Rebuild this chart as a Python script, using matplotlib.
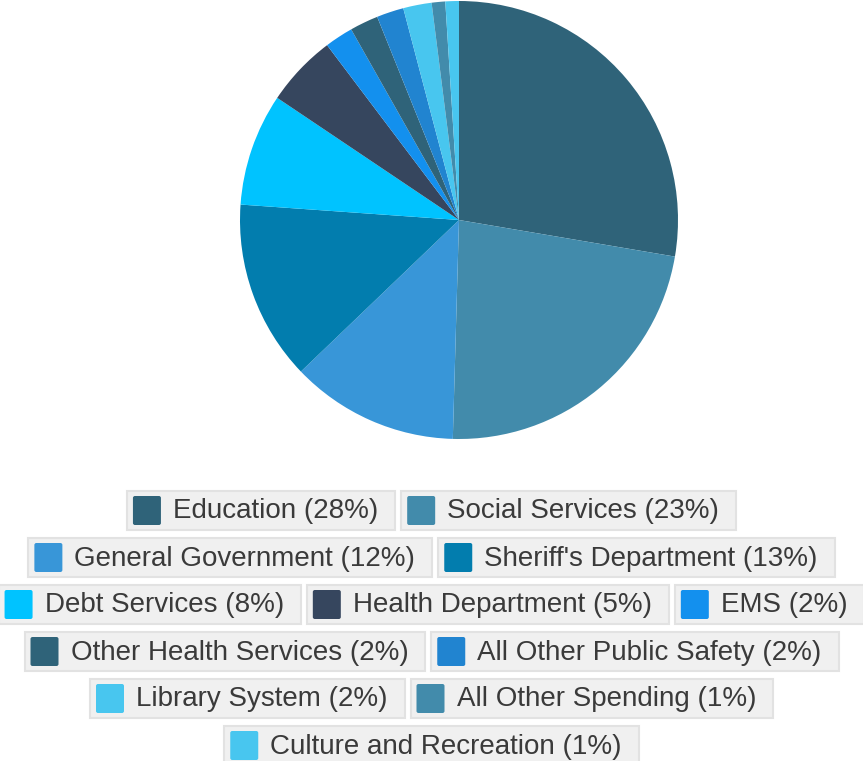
import matplotlib
matplotlib.use("Agg")
import matplotlib.pyplot as plt
from matplotlib.patches import FancyBboxPatch

# county spending shares, clockwise from 12 o'clock
categories = ["Education", "Social Services", "General Government",
              "Sheriff's Department", "Debt Services", "Health Department",
              "EMS", "Other Health Services", "All Other Public Safety",
              "Library System", "All Other Spending",
              "Culture and Recreation"]
shares = [27.7, 22.8, 12.4, 13.3, 8.3, 5.3, 2.1, 2.1, 2.0, 2.1, 1.0, 1.0]
colours = ["#2f6379", "#428bab", "#3896d8", "#027dae", "#00c3ff",
           "#36465e", "#1390ee", "#2f6379", "#2184d0", "#48c6ef",
           "#428bab", "#48c6ef"]
# how many legend entries go on each line
row_sizes = [2, 2, 3, 2, 2, 1]

W, H = 863, 761
fig = plt.figure(figsize=(W / 100, H / 100), dpi=100)
plt.rcParams["font.family"] = ["Liberation Sans", "DejaVu Sans"]

# pie: centre (459, 219) px, radius 219 px
ax = fig.add_axes([240 / W, (H - 439) / H, 438 / W, 438 / H])
ax.pie(shares, colors=colours, startangle=90, counterclock=False,
       radius=1.0, wedgeprops=dict(linewidth=0))
ax.set_xlim(-1, 1)
ax.set_ylim(-1, 1)
ax.set_aspect("equal")
ax.axis("off")

# legend drawn by hand in pixel coordinates, centred rows
lax = fig.add_axes([0, 0, 1, 1])
lax.set_xlim(0, W)
lax.set_ylim(H, 0)
lax.axis("off")

renderer = fig.canvas.get_renderer()
fsize = 20
pad_l, sw, sw_gap, pad_r = 6, 28, 12, 17
gap = 6
box_h = 39
row_step = 47
top = 491

labels = []
widths = []
total = sum(shares)
for name, val in zip(categories, shares):
    label = f"{name} ({round(val / total * 100)}%)"
    t = lax.text(0, 0, label, fontsize=fsize)
    tw = t.get_window_extent(renderer).width
    t.remove()
    labels.append(label)
    widths.append(pad_l + sw + sw_gap + tw + pad_r)

start = 0
for r, n in enumerate(row_sizes):
    items = list(range(start, start + n))
    start += n
    tot = sum(widths[i] for i in items) + gap * (n - 1)
    x = (W - tot) / 2
    y = top + r * row_step
    for i in items:
        lax.add_patch(FancyBboxPatch((x, y), widths[i], box_h,
                                     boxstyle="square,pad=0",
                                     facecolor="#f0f0f0",
                                     edgecolor="#e2e2e2", linewidth=1.5))
        lax.add_patch(FancyBboxPatch((x + pad_l + 1, y + 6), sw - 2, box_h - 12,
                                     boxstyle="round,pad=1,rounding_size=2",
                                     facecolor=colours[i], edgecolor="none"))
        lax.text(x + pad_l + sw + sw_gap, y + box_h / 2 + 1, labels[i],
                 fontsize=fsize, color="#3a3a3a", va="center", ha="left")
        x += widths[i] + gap

fig.savefig("out.png", dpi=100)
